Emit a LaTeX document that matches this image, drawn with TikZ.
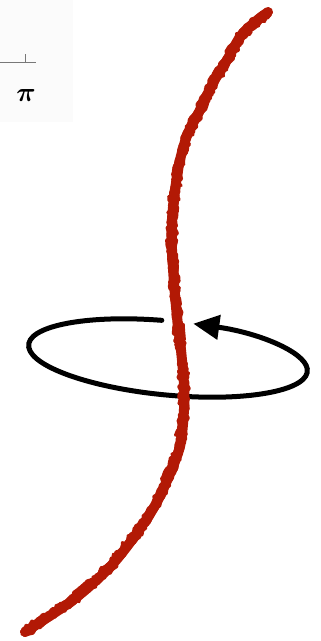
\documentclass[tikz,border=0pt]{standalone}
\usepackage{amsmath,amssymb,bm}
\usetikzlibrary{arrows.meta,decorations.pathmorphing}
\definecolor{stringred}{RGB}{178,25,5}
\definecolor{axisgray}{RGB}{120,120,120}
\begin{document}
\begin{tikzpicture}[x=1pt,y=1pt,
  loopline/.style={line width=5pt, black, line cap=round},
  stringcore/.style={line width=10pt, stringred, line cap=round, line join=round},
  stringrough/.style={line width=3pt, stringred, line cap=round, line join=round,
     decorate, decoration={random steps, segment length=3pt, amplitude=2pt}},
  axisline/.style={axisgray, line width=0.8pt}]
\pgfmathsetseed{11}
\useasboundingbox (0,0) rectangle (321,-641);
% faint panel top-left
\fill[gray!3] (0,0) rectangle (73,-122);
\coordinate (ax0) at (0,-62);
\coordinate (ax1) at (36,-62);
\coordinate (tk0) at (25,-62);
\coordinate (tk1) at (25,-54);
\draw[axisline] (ax0) -- (ax1);
\draw[axisline] (tk0) -- (tk1);
\node[scale=2.7] (pi) at (26,-95) {$\bm{\pi}$};
% the loop with arrow
\coordinate (C) at (168,-358);
\draw[loopline, -{Triangle[length=26pt,width=24pt]}, shift={(C)}, rotate=-5.5]
  (94:140 and 37) arc[start angle=94, end angle=441, x radius=140, y radius=37];
% the string
\def\stringpts{(268,-12) (243,-33) (227,-60) (213,-83) (200,-110) (188,-133) (180,-160) (175,-190) (172,-220) (172,-250) (174,-283) (177,-317) (181,-350) (184,-385) (184,-410) (179,-450) (158,-500) (137,-533) (110,-567) (73,-600) (25,-632)}
\draw[stringcore] plot[smooth, tension=0.5] coordinates {\stringpts};
\foreach \dx/\dy in {3.6/0,-3.6/0,0/3.6,0/-3.6,2.5/2.5,-2.5/-2.5,2.5/-2.5,-2.5/2.5}{
  \begin{scope}[shift={(\dx,\dy)}]
    \draw[stringrough] plot coordinates {\stringpts};
  \end{scope}
}
\end{tikzpicture}
\end{document}
